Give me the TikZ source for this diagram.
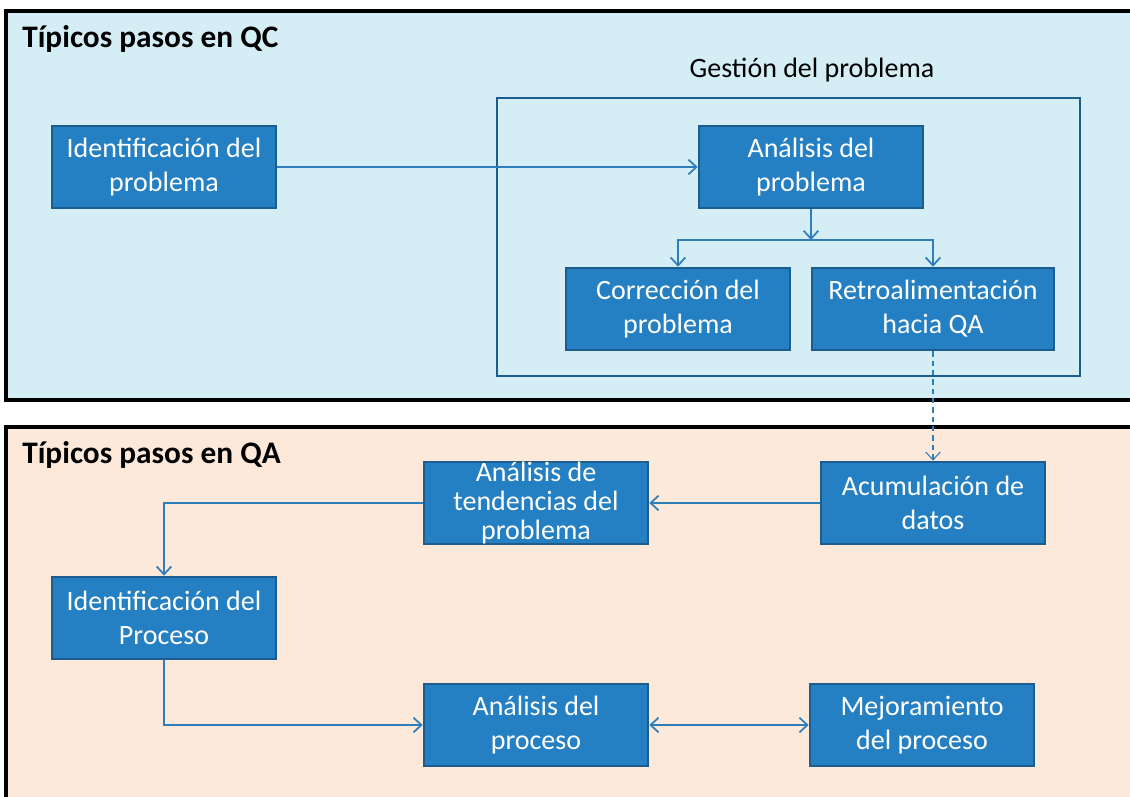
\documentclass[tikz,border=0pt]{standalone}
\usepackage{fontspec}
\setmainfont{Carlito}
\usetikzlibrary{positioning}
\usetikzlibrary{arrows.meta}
\definecolor{QCFONDO}{HTML}{D5EEF6}
\definecolor{QAFONDO}{HTML}{FDE9DA}
\definecolor{CAJA}{HTML}{2480C3}
\definecolor{BORDE}{HTML}{1C5D8E}
\definecolor{LINEA}{HTML}{2E7EBB}
\tikzset{
	paso/.style = {draw=BORDE, fill=CAJA, line width=1.9pt, text=white, align=center,
		minimum width=168pt, minimum height=61.5pt, inner sep=2pt,
		font=\fontsize{21}{25.5}\selectfont},
	flecha/.style = {draw=LINEA, line width=1.3pt, -{Straight Barb[length=6pt,width=11pt]}},
	titulo/.style = {anchor=base west, inner sep=0pt, font=\fontsize{23.5}{27}\selectfont\bfseries}
}

\begin{document}
\begin{tikzpicture}[x=0.75pt, y=-0.75pt]
		\clip (0,0) rectangle (1130,796);
		\fill[white] (0,0) rectangle (1130,796);
		
		% QC
		\draw[fill=QCFONDO, line width=2.4pt] (6,11) rectangle (1145,400);
		\node[titulo] (tqc) at (22,47) {Típicos pasos en QC};
		\draw[BORDE, line width=1.9pt] (497,98) rectangle (1080,376);
		\node[font=\fontsize{21}{25.5}\selectfont] (gestion) at (812,70) {Gestión del problema};
		
		\node[paso] (idprob) at (164,167) {Identificación del\\problema};
		\node[paso] (anprob) at (811,167) {Análisis del\\problema};
		\node[paso] (corrprob) at (678,309) {Corrección del\\problema};
		\node[paso, minimum width=181.5pt] (retro) at (933,309) {Retroalimentación\\hacia QA};
		
		% QA
		\draw[fill=QAFONDO, line width=2.4pt] (6,427) rectangle (1145,810);
		\node[titulo] (tqa) at (22,463) {Típicos pasos en QA};
		
		\node[paso, inner ysep=-4pt, font=\fontsize{21}{22}\selectfont] (antend) at (536,503) {Análisis de\\tendencias del\\problema};
		\node[paso] (acum) at (933,503) {Acumulación de\\datos};
		\node[paso] (idproc) at (164,618) {Identificación del\\Proceso};
		\node[paso] (anproc) at (536,725) {Análisis del\\proceso};
		\node[paso] (mejora) at (922,725) {Mejoramiento\\del proceso};
		
		% conexiones
		\coordinate (bif) at (811,240);
		\draw[flecha] (idprob) -- (anprob);
		\draw[flecha] (anprob) -- (bif);
		\draw[flecha] (bif) -| (corrprob.north);
		\draw[flecha] (bif) -| (retro.north);
		\draw[flecha, dashed, line width=0.8pt, dash pattern=on 4pt off 3pt] (retro) -- (acum);
		\draw[flecha] (acum) -- (antend);
		\draw[flecha] (antend.west) -| (idproc.north);
		\draw[flecha] (idproc.south) |- (anproc.west);
		\draw[flecha, {Straight Barb[length=6pt,width=11pt]}-{Straight Barb[length=6pt,width=11pt]}] (anproc) -- (mejora);
	\end{tikzpicture}
\end{document}
